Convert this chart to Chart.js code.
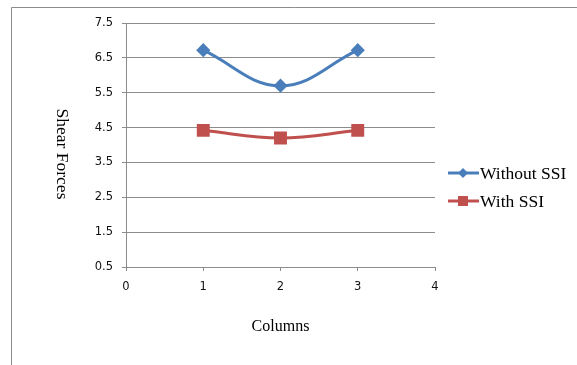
<!DOCTYPE html>
<html lang="en">
<head>
    <meta charset="UTF-8">
    <title>Shear Forces</title>
    <script src="https://cdn.jsdelivr.net/npm/chart.js"></script>
    <style>
        html, body { margin: 0; padding: 0; background: #fff; }
        #wrap { position: absolute; left: 0; top: 0; width: 577px; height: 365px; }
    </style>
</head>
<body>
    <div id="wrap">
        <canvas id="graficoShear"></canvas>
    </div>

<script>
    // values
    const columns = [1, 2, 3];
    const withoutSSI = [6.72, 5.70, 6.72];
    const withSSI = [4.42, 4.20, 4.42];
    const seriesNames = ['Without SSI', 'With SSI'];
    const yTitle = 'Shear Forces';
    const xTitle = 'Columns';

    const azul = '#4A7EBB';
    const vermelho = '#C0504D';
    const cinza = '#8c8c8c';
    const serif = '"Liberation Serif", "Times New Roman", serif';

    const toPoints = (vals) => vals.map((v, i) => ({ x: columns[i], y: v }));

    // border, rotated y title and the legend
    const extras = {
        id: 'extras',
        afterDraw(chart) {
            const ctx = chart.ctx;
            ctx.save();
            ctx.strokeStyle = cinza;
            ctx.lineWidth = 1;
            ctx.beginPath();
            ctx.moveTo(11.5, 365);
            ctx.lineTo(11.5, 7.5);
            ctx.lineTo(577, 7.5);
            ctx.stroke();

            ctx.fillStyle = '#000';
            ctx.font = '17.5px ' + serif;
            ctx.textAlign = 'center';
            ctx.textBaseline = 'middle';
            ctx.save();
            ctx.translate(62, 154);
            ctx.rotate(Math.PI / 2);
            ctx.fillText(yTitle, 0, 0);
            ctx.restore();

            const itens = [
                { nome: seriesNames[0], cor: azul, y: 173, forma: 'diamond' },
                { nome: seriesNames[1], cor: vermelho, y: 201, forma: 'square' }
            ];
            itens.forEach(it => {
                ctx.strokeStyle = it.cor;
                ctx.fillStyle = it.cor;
                ctx.lineWidth = 3;
                ctx.beginPath();
                ctx.moveTo(448, it.y);
                ctx.lineTo(479, it.y);
                ctx.stroke();
                ctx.beginPath();
                if (it.forma === 'diamond') {
                    ctx.moveTo(463, it.y - 5);
                    ctx.lineTo(468, it.y);
                    ctx.lineTo(463, it.y + 5);
                    ctx.lineTo(458, it.y);
                    ctx.closePath();
                } else {
                    ctx.rect(458, it.y - 5, 10, 10);
                }
                ctx.fill();
                ctx.fillStyle = '#000';
                ctx.textAlign = 'left';
                ctx.fillText(it.nome, 480, it.y + 1);
            });
            ctx.restore();
        }
    };

    new Chart(document.getElementById('graficoShear'), {
        type: 'line',
        data: {
            datasets: [{
                label: seriesNames[0],
                data: toPoints(withoutSSI),
                borderColor: azul,
                backgroundColor: azul,
                borderWidth: 3,
                tension: 0.4,
                pointStyle: 'rectRot',
                pointRadius: 5,
                pointHoverRadius: 5,
                fill: false
            }, {
                label: seriesNames[1],
                data: toPoints(withSSI),
                borderColor: vermelho,
                backgroundColor: vermelho,
                borderWidth: 3,
                tension: 0.4,
                pointStyle: 'rect',
                pointRadius: 7,
                pointHoverRadius: 7,
                fill: false
            }]
        },
        options: {
            responsive: true,
            maintainAspectRatio: false,
            animation: false,
            layout: { padding: { top: 23, right: 142, left: 0, bottom: 0 } },
            plugins: {
                legend: { display: false },
                tooltip: { enabled: false }
            },
            scales: {
                x: {
                    type: 'linear',
                    min: 0,
                    max: 4,
                    ticks: {
                        stepSize: 1,
                        padding: 9,
                        color: '#111',
                        font: { family: '"DejaVu Sans", sans-serif', size: 11.5 }
                    },
                    grid: {
                        drawOnChartArea: false,
                        drawTicks: true,
                        tickLength: 4,
                        color: cinza
                    },
                    border: { color: cinza },
                    title: {
                        display: true,
                        text: xTitle,
                        color: '#000',
                        font: { family: serif, size: 16 },
                        padding: { top: 0, bottom: 29 }
                    },
                    afterFit: (scale) => { scale.height = 98; }
                },
                y: {
                    min: 0.5,
                    max: 7.5,
                    ticks: {
                        stepSize: 1,
                        padding: 9,
                        color: '#111',
                        font: { family: '"DejaVu Sans", sans-serif', size: 11.5 },
                        callback: (v) => Number(v).toFixed(1)
                    },
                    grid: {
                        drawTicks: true,
                        tickLength: 4,
                        color: cinza
                    },
                    border: { color: cinza },
                    afterFit: (scale) => { scale.width = 126; }
                }
            }
        },
        plugins: [extras]
    });
</script>
</body>
</html>
